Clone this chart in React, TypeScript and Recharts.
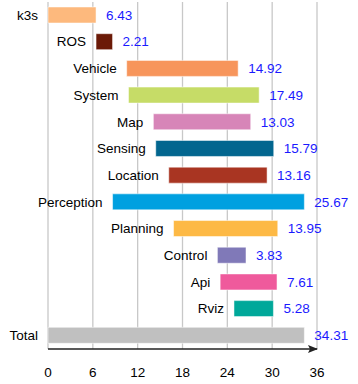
import React from 'react';
import { BarChart, Bar, XAxis, YAxis, CartesianGrid, Cell, LabelList } from 'recharts';

const categories = ['k3s', 'ROS', 'Vehicle', 'System', 'Map', 'Sensing', 'Location', 'Perception', 'Planning', 'Control', 'Api', 'Rviz', 'Total'];
const values = [6.43, 2.21, 14.92, 17.49, 13.03, 15.79, 13.16, 25.67, 13.95, 3.83, 7.61, 5.28, 34.31];
const offsets = [0, 6.43, 10.53, 10.77, 14.1, 14.42, 16.16, 8.64, 16.8, 22.67, 23.04, 24.89, 0];
const colors = ['#FDB97D', '#6B1A07', '#F7955B', '#C6DC67', '#D785B8', '#02668F', '#A93522', '#00A0E0', '#FDB945', '#8079B8', '#EF5A9C', '#00A89A', '#C0C0C0'];
const xTicks = [0, 6, 12, 18, 24, 30, 36];

const data = categories.map((name, i) => ({ name, offset: offsets[i], value: values[i] }));

export default function App() {
  return (
    <div style={{ position: 'absolute', left: 0, top: 0, fontFamily: '"Liberation Sans", Arial, sans-serif' }}>
      <BarChart
        width={358}
        height={384}
        data={data}
        layout="vertical"
        margin={{ top: 2, right: 41, bottom: 7, left: 48 }}
        barSize={16}
      >
        <defs>
          <marker id="arrowHead" markerWidth="10" markerHeight="8" refX="9" refY="4" orient="auto" markerUnits="userSpaceOnUse">
            <path d="M0,0 L10,4 L0,8 L2,4 Z" fill="#222" />
          </marker>
        </defs>
        <CartesianGrid horizontal={false} vertical stroke="#c8c8c8" strokeWidth={1.3} />
        <XAxis
          type="number"
          domain={[0, 36]}
          ticks={xTicks}
          tickLine={false}
          tickMargin={12}
          axisLine={{ stroke: '#222', strokeWidth: 1.3, markerEnd: 'url(#arrowHead)' }}
          tick={{ fill: '#000', fontSize: 13.5 }}
          height={28}
        />
        <YAxis type="category" dataKey="name" hide />
        <Bar dataKey="offset" stackId="a" fill="transparent" isAnimationActive={false} />
        <Bar dataKey="value" stackId="a" isAnimationActive={false} stroke="#ffffff" strokeOpacity={0.5}>
          {data.map((d, i) => (
            <Cell key={d.name} fill={colors[i]} />
          ))}
          <LabelList dataKey="value" position="right" offset={10} fill="#1a1aff" fontSize={13.5} />
          <LabelList dataKey="name" position="left" offset={10} fill="#000" fontSize={13.5} />
        </Bar>
      </BarChart>
    </div>
  );
}
